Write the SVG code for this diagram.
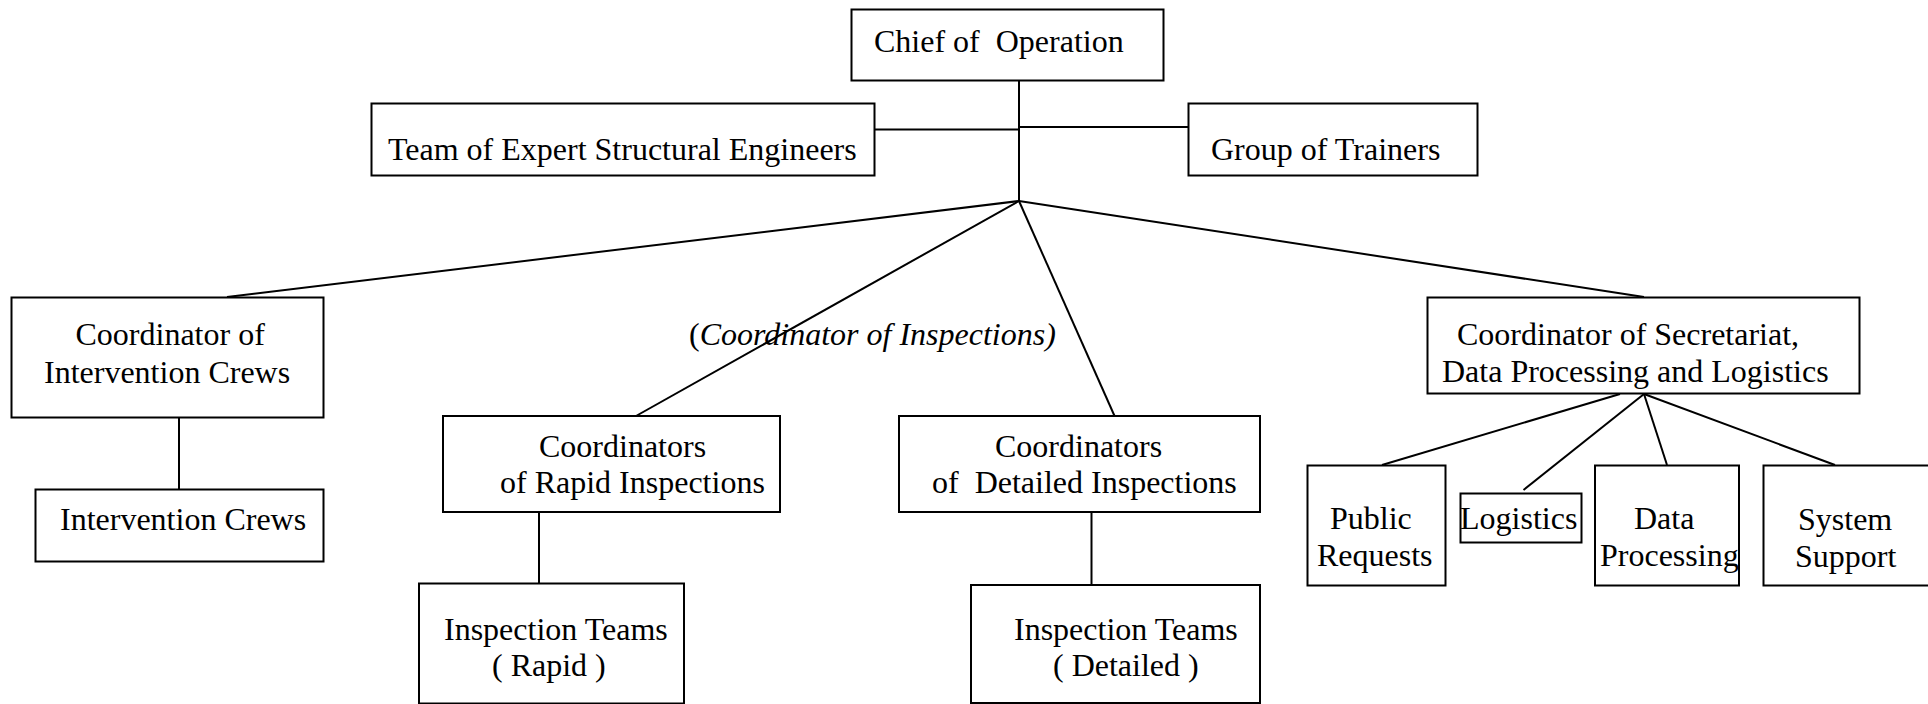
<svg xmlns="http://www.w3.org/2000/svg" width="1928" height="704" viewBox="0 0 1928 704">
<style>
  .box { fill: #ffffff; stroke: #000000; stroke-width: 2; }
  .lbl { font-family: "Liberation Serif", "Times New Roman", serif; font-size: 32px; fill: #000000; }
  .it { font-style: italic; }
  .conn line { stroke: #000000; stroke-width: 2; }
</style>
<rect x="0" y="0" width="1928" height="704" fill="#ffffff"/>
<g class="conn" id="connectors">
  <line x1="1019" y1="81" x2="1019" y2="201"/>
  <line x1="874" y1="129.5" x2="1019" y2="129.5"/>
  <line x1="1019" y1="127" x2="1188" y2="127"/>
  <line x1="1019" y1="201" x2="227" y2="297"/>
  <line x1="1019" y1="201" x2="636" y2="416"/>
  <line x1="1019" y1="201" x2="1115" y2="417"/>
  <line x1="1019" y1="201" x2="1644" y2="297"/>
  <line x1="179" y1="417" x2="179" y2="489"/>
  <line x1="539" y1="512" x2="539" y2="583"/>
  <line x1="1091.5" y1="512" x2="1091.5" y2="585"/>
  <line x1="1620" y1="394" x2="1382" y2="465"/>
  <line x1="1644" y1="394" x2="1523.5" y2="490"/>
  <line x1="1644" y1="394" x2="1667" y2="465"/>
  <line x1="1644" y1="394" x2="1835" y2="465"/>
</g>
<g id="chief">
  <rect class="box" x="851.5" y="9.5" width="312" height="71"/>
  <text class="lbl" x="874" y="52" xml:space="preserve">Chief of  Operation</text>
</g>
<g id="team-experts">
  <rect class="box" x="371.5" y="103.5" width="503" height="72"/>
  <text class="lbl" x="388" y="160">Team of Expert Structural Engineers</text>
</g>
<g id="group-trainers">
  <rect class="box" x="1188.5" y="103.5" width="289" height="72"/>
  <text class="lbl" x="1211" y="160">Group of Trainers</text>
</g>
<g id="inspections-label">
  <text class="lbl" x="689" y="345">(<tspan class="it">Coordinator of Inspections)</tspan></text>
</g>
<g id="coord-intervention">
  <rect class="box" x="11.5" y="297.5" width="312" height="120"/>
  <text class="lbl" x="75.5" y="345">Coordinator of</text>
  <text class="lbl" x="44" y="382.5">Intervention Crews</text>
</g>
<g id="intervention-crews">
  <rect class="box" x="35.5" y="489.5" width="288" height="72"/>
  <text class="lbl" x="60" y="530">Intervention Crews</text>
</g>
<g id="coord-rapid">
  <rect class="box" x="443" y="416" width="337" height="96"/>
  <text class="lbl" x="539" y="457">Coordinators</text>
  <text class="lbl" x="500" y="492.5">of Rapid Inspections</text>
</g>
<g id="teams-rapid">
  <rect class="box" x="419" y="583.5" width="265" height="120"/>
  <text class="lbl" x="444" y="640">Inspection Teams</text>
  <text class="lbl" x="492" y="676" xml:space="preserve">( Rapid )</text>
</g>
<g id="coord-detailed">
  <rect class="box" x="899" y="416" width="361" height="96"/>
  <text class="lbl" x="995" y="457">Coordinators</text>
  <text class="lbl" x="932" y="493" xml:space="preserve">of  Detailed Inspections</text>
</g>
<g id="teams-detailed">
  <rect class="box" x="971" y="585" width="289" height="118"/>
  <text class="lbl" x="1014" y="640">Inspection Teams</text>
  <text class="lbl" x="1053" y="676" xml:space="preserve">( Detailed )</text>
</g>
<g id="coord-secretariat">
  <rect class="box" x="1427.5" y="297.5" width="432" height="96"/>
  <text class="lbl" x="1457" y="345">Coordinator of Secretariat,</text>
  <text class="lbl" x="1442" y="382">Data Processing and Logistics</text>
</g>
<g id="public-requests">
  <rect class="box" x="1307.5" y="465.5" width="138" height="120"/>
  <text class="lbl" x="1330" y="529">Public</text>
  <text class="lbl" x="1317" y="566">Requests</text>
</g>
<g id="logistics">
  <rect class="box" x="1460.5" y="493.5" width="121" height="49"/>
  <text class="lbl" x="1460" y="529">Logistics</text>
</g>
<g id="data-processing">
  <rect class="box" x="1595" y="465.5" width="144" height="120"/>
  <text class="lbl" x="1634" y="529">Data</text>
  <text class="lbl" x="1600" y="566">Processing</text>
</g>
<g id="system-support">
  <rect class="box" x="1763.5" y="465.5" width="180" height="120"/>
  <text class="lbl" x="1798" y="530">System</text>
  <text class="lbl" x="1795" y="566.5">Support</text>
</g>
</svg>
